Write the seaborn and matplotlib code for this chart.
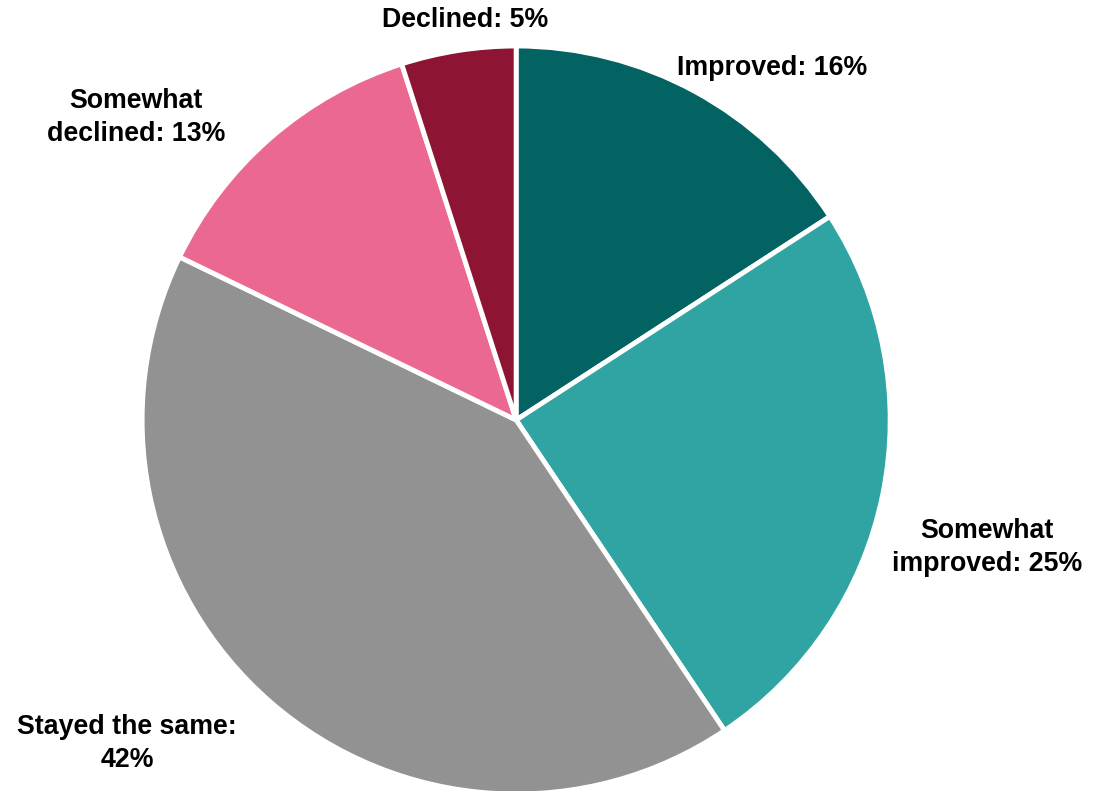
import matplotlib
matplotlib.use("Agg")
import matplotlib.pyplot as plt
import seaborn as sns

categories = ["Improved", "Somewhat\nimproved", "Stayed the same:\n", "Somewhat\ndeclined", "Declined"]
shares = [16, 25, 42, 13, 5]
colors = ["#036262", "#2fa4a2", "#929292", "#eb6990", "#8e1433"]

sns.set_theme(style="white")
plt.rcParams['font.family'] = ['Liberation Sans', 'DejaVu Sans']

fig = plt.figure(figsize=(10.97, 7.91), dpi=100)
ax = fig.add_axes([0, 0, 1, 1])

wedges, _ = ax.pie(shares, colors=sns.color_palette(colors), startangle=90, counterclock=False,
                   radius=1, wedgeprops=dict(edgecolor="white", linewidth=3.5))

# label spots, in pie-radius units
label_pos = [(0.684, 0.941), (1.259, -0.342), (-1.040, -0.864), (-1.016, 0.810), (-0.136, 1.07)]
for name, val, (x, y) in zip(categories, shares, label_pos):
    sep = "" if name.endswith("\n") else ": "
    ax.text(x, y, f"{name}{sep}{val}%", ha="center", va="center", fontsize=19.3,
            fontweight="bold", color="black", linespacing=1.35)

ax.set_xlim(-1.380, 1.553)
ax.set_ylim(-0.992, 1.123)
ax.set_aspect("equal", adjustable="datalim")
ax.axis("off")

plt.savefig("out.png", dpi=100)
